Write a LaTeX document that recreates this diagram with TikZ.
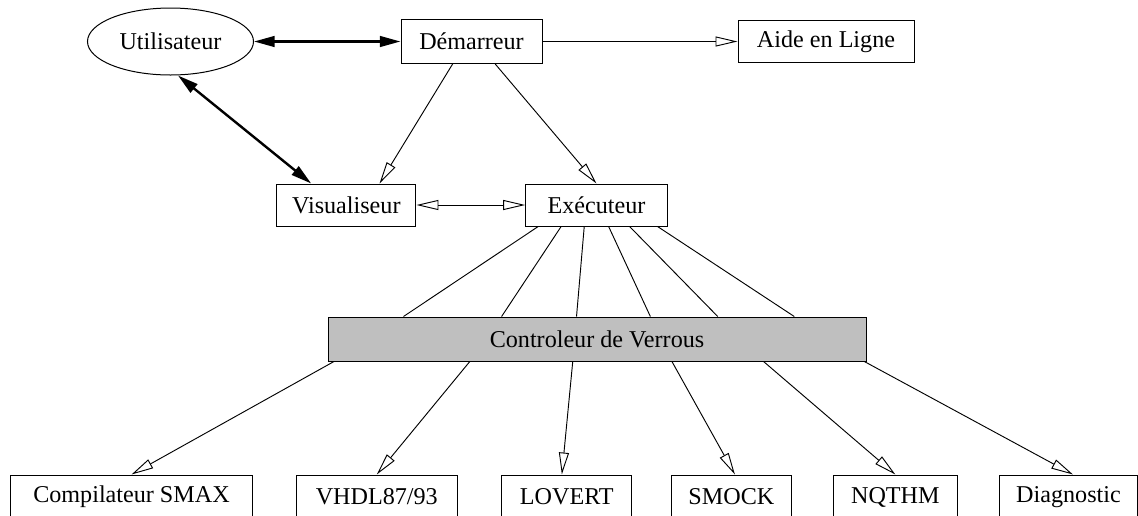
\documentclass[tikz,border=0pt]{standalone}
\usepackage{fontspec}
\setmainfont{Liberation Serif}
\usetikzlibrary{arrows.meta,calc,shapes.geometric}
\begin{document}
\begin{tikzpicture}[x=0.75pt,y=-0.75pt,
  every node/.style={font=\fontsize{18.1}{20}\selectfont},
  box/.style={draw,line width=0.75pt,rectangle,inner sep=0pt,minimum height=#1},
  box/.default=31.5pt,
  oval/.style={draw,line width=0.75pt,ellipse,inner sep=0pt},
  thin/.style={line width=0.7pt},
  openarr/.style={thin,-{Triangle[open,length=16.5pt,width=7.5pt,line width=0.7pt]}},
  openboth/.style={thin,{Triangle[open,length=16.5pt,width=7.5pt,line width=0.7pt]}-{Triangle[open,length=16.5pt,width=7.5pt,line width=0.7pt]}},
  thickboth/.style={line width=1.8pt,{Triangle[length=15.5pt,width=8pt]}-{Triangle[length=15.5pt,width=8pt]}}
]
\clip (0,0) rectangle (1138,515);
\fill[white] (0,0) rectangle (1138,515);

% nodes
\node[oval,minimum width=124.5pt,minimum height=50.25pt] (util) at (170.5,41.5) {Utilisateur};
\node[box=33pt,minimum width=105.75pt] (dem) at (471.5,41.5) {Démarreur};
\node[box=31.5pt,minimum width=132pt] (aide) at (826,41.5) {Aide en Ligne};
\node[box,minimum width=104.5pt] (vis) at (346.3,205) {Visualiseur};
\node[box,minimum width=106.2pt] (exec) at (596.5,205) {Exécuteur};
\node[box=33pt,minimum width=403.5pt,fill={rgb,255:red,191;green,191;blue,191}] (ctrl) at (597,339) {Controleur de Verrous};
\node[box=33pt,minimum width=181.65pt] (comp) at (131.5,497) {Compilateur SMAX};
\node[box=33pt,minimum width=121.2pt] (vhdl) at (376.8,497) {VHDL87/93};
\node[box=33pt,minimum width=97.6pt] (lovert) at (566.85,497) {LOVERT};
\node[box=33pt,minimum width=90.15pt] (smock) at (731.4,497) {SMOCK};
\node[box=33pt,minimum width=93.5pt] (nqthm) at (895.35,497) {NQTHM};
\node[box=33pt,minimum width=103.65pt] (diag) at (1068.5,497) {Diagnostic};

% top connectors
\draw[thickboth] (util.east) -- (dem.west);
\draw[thickboth] ($(util.south)+(7.5,0)$) -- ($(vis.north west)!0.25!(vis.north east)$);
\draw[openarr] (dem.east) -- (aide.west);
\draw[openarr] ($(dem.south west)!0.367!(dem.south east)$) -- ($(vis.north west)!0.737!(vis.north east)$);
\draw[openarr] ($(dem.south west)!0.667!(dem.south east)$) -- (exec.north);
\draw[openboth] (vis.east) -- (exec.west);

% executeur to controleur
\foreach \a/\b in {0.091/0.141,0.252/0.323,0.414/0.462,0.585/0.599,0.732/0.724,0.928/0.866}{
  \draw[thin] ($(exec.south west)!\a!(exec.south east)$) -- ($(ctrl.north west)!\b!(ctrl.north east)$);
}

% controleur to tools
\draw[openarr] ($(ctrl.south west)!0.012!(ctrl.south east)$) -- (comp.north);
\draw[openarr] ($(ctrl.south west)!0.264!(ctrl.south east)$) -- (vhdl.north);
\draw[openarr] ($(ctrl.south west)!0.455!(ctrl.south east)$) -- ($(lovert.north)+(-5,0)$);
\draw[openarr] ($(ctrl.south west)!0.639!(ctrl.south east)$) -- ($(smock.north)+(3.5,0)$);
\draw[openarr] ($(ctrl.south west)!0.809!(ctrl.south east)$) -- (nqthm.north);
\draw[openarr] ($(ctrl.south west)!0.996!(ctrl.south east)$) -- ($(diag.north)+(4.5,0)$);
\end{tikzpicture}
\end{document}
